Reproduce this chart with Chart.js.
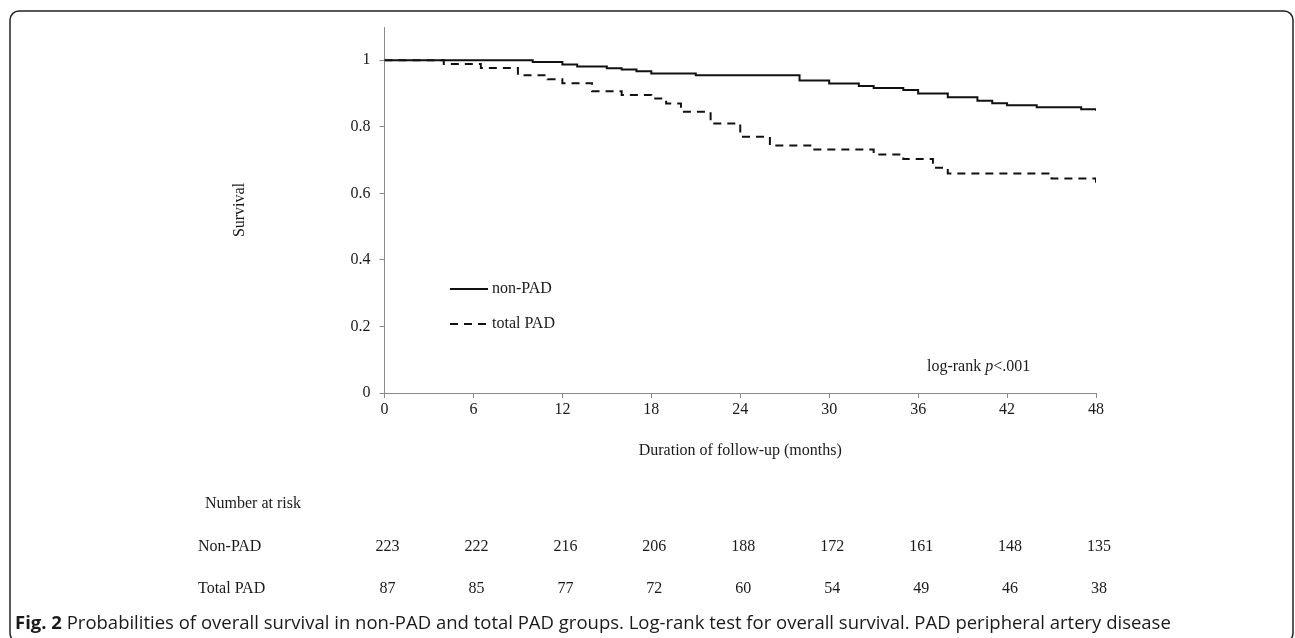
<!DOCTYPE html>
<html>
<head>
<meta charset="utf-8">
<script src="https://cdn.jsdelivr.net/npm/chart.js@4.4.1/dist/chart.umd.min.js"></script>
<style>
  html, body { margin: 0; padding: 0; background: #fff; }
  canvas { display: block; }
</style>
</head>
<body>
<canvas id="kmChart" width="1295" height="638"></canvas>
<script>
// Kaplan-Meier steps (month of event, survival after it)
const nonPadMonths = [0, 10, 12, 13, 15, 16, 17, 18, 21, 28, 30, 32, 33, 35, 36, 38, 40, 41, 42, 44, 47, 48];
const nonPadSurv = [1, 0.995, 0.987, 0.981, 0.976, 0.972, 0.967, 0.960, 0.955, 0.939, 0.930, 0.923, 0.917, 0.911, 0.900, 0.889, 0.878, 0.871, 0.865, 0.859, 0.853, 0.848];

const padMonths = [0, 4, 6.5, 9, 11, 12, 14, 16, 18, 19, 20, 22, 24, 26, 29, 33, 35, 37, 38, 45, 48];
const padSurv = [1, 0.989, 0.977, 0.955, 0.943, 0.931, 0.907, 0.896, 0.885, 0.870, 0.845, 0.810, 0.770, 0.744, 0.732, 0.717, 0.703, 0.677, 0.660, 0.645, 0.630];

const riskMonths = [0, 6, 12, 18, 24, 30, 36, 42, 48];
const riskNonPad = [223, 222, 216, 206, 188, 172, 161, 148, 135];
const riskPad = [87, 85, 77, 72, 60, 54, 49, 46, 38];

const serif = '"Liberation Serif", "Times New Roman", serif';
const ink = "#1a1a1a";
const axisGrey = "#8a8a8a";

const toPoints = (xs, ys) => xs.map((x, i) => ({ x: x, y: ys[i] }));

// legend, log-rank note, number-at-risk table, caption and frame
const extras = {
  id: "extras",
  afterDraw(chart) {
    const ctx = chart.ctx;
    const xs = chart.scales.x;
    ctx.save();

    // frame
    ctx.strokeStyle = "#222";
    ctx.lineWidth = 1.5;
    ctx.beginPath();
    ctx.roundRect(10, 11, 1283, 631, 9);
    ctx.stroke();

    ctx.fillStyle = ink;
    ctx.textBaseline = "middle";
    ctx.font = "16px " + serif;

    // legend
    const legendY = [289, 324];
    chart.data.datasets.forEach((ds, i) => {
      ctx.strokeStyle = ds.borderColor;
      ctx.lineWidth = ds.borderWidth;
      ctx.setLineDash(ds.borderDash || []);
      ctx.beginPath();
      ctx.moveTo(450, legendY[i]);
      ctx.lineTo(488, legendY[i]);
      ctx.stroke();
      ctx.setLineDash([]);
      ctx.textAlign = "left";
      ctx.fillText(ds.label, 492, legendY[i]);
    });

    // log-rank note
    let x = 927;
    ctx.textAlign = "left";
    ctx.fillText("log-rank ", x, 367);
    x += ctx.measureText("log-rank ").width;
    ctx.font = "italic 16px " + serif;
    ctx.fillText("p", x, 367);
    x += ctx.measureText("p").width;
    ctx.font = "16px " + serif;
    ctx.fillText("<.001", x, 367);

    // number at risk
    ctx.fillText("Number at risk", 205, 504);
    ctx.fillText("Non-PAD", 198, 547);
    ctx.fillText("Total PAD", 198, 589);
    ctx.textAlign = "center";
    riskMonths.forEach((m, i) => {
      const px = xs.getPixelForValue(m) + 3;
      ctx.fillText(String(riskNonPad[i]), px, 547);
      ctx.fillText(String(riskPad[i]), px, 589);
    });

    // caption
    ctx.textAlign = "left";
    ctx.font = 'bold 18.5px "Open Sans", sans-serif';
    ctx.fillText("Fig. 2", 15, 624);
    const w = ctx.measureText("Fig. 2 ").width;
    ctx.font = '18.5px "Open Sans", sans-serif';
    ctx.fillText("Probabilities of overall survival in non-PAD and total PAD groups. Log-rank test for overall survival. PAD peripheral artery disease", 15 + w, 624);

    ctx.restore();
  }
};

const canvas = document.getElementById("kmChart");
const kmChart = new Chart(canvas, {
  type: "line",
  data: {
    datasets: [
      {
        label: "non-PAD",
        data: toPoints(nonPadMonths, nonPadSurv),
        stepped: "before",
        borderColor: "#111",
        borderWidth: 2,
        pointRadius: 0,
        fill: false,
      },
      {
        label: "total PAD",
        data: toPoints(padMonths, padSurv),
        stepped: "before",
        borderColor: "#111",
        borderWidth: 2,
        borderDash: [8, 6],
        pointRadius: 0,
        fill: false,
      },
    ],
  },
  options: {
    responsive: false,
    animation: false,
    events: [],
    layout: { padding: { left: 226, right: 199, top: 27, bottom: 178 } },
    plugins: {
      legend: { display: false },
      tooltip: { enabled: false },
    },
    scales: {
      x: {
        type: "linear",
        min: 0,
        max: 48,
        afterFit: (s) => { s.height = 67; },
        ticks: { stepSize: 6, padding: 2, color: ink, font: { family: serif, size: 16 } },
        grid: { drawOnChartArea: false, drawTicks: true, tickLength: 5, color: axisGrey },
        border: { color: axisGrey, width: 1 },
        title: {
          display: true,
          text: "Duration of follow-up (months)",
          color: ink,
          font: { family: serif, size: 16 },
          padding: { top: 0, bottom: 0 },
        },
      },
      y: {
        min: 0,
        max: 1.1,
        afterFit: (s) => { s.width = 158.5; },
        afterBuildTicks: (s) => { s.ticks = s.ticks.filter((t) => t.value <= 1.0001); },
        ticks: {
          stepSize: 0.2,
          padding: 9,
          color: ink,
          font: { family: serif, size: 16 },
          callback: (v) => String(Math.round(v * 10) / 10),
        },
        grid: { drawOnChartArea: false, drawTicks: true, tickLength: 5, color: axisGrey },
        border: { color: axisGrey, width: 1 },
        title: {
          display: true,
          text: "Survival",
          color: ink,
          font: { family: serif, size: 16 },
          padding: { top: 4, bottom: 0 },
        },
      },
    },
  },
  plugins: [extras],
});
</script>
</body>
</html>
